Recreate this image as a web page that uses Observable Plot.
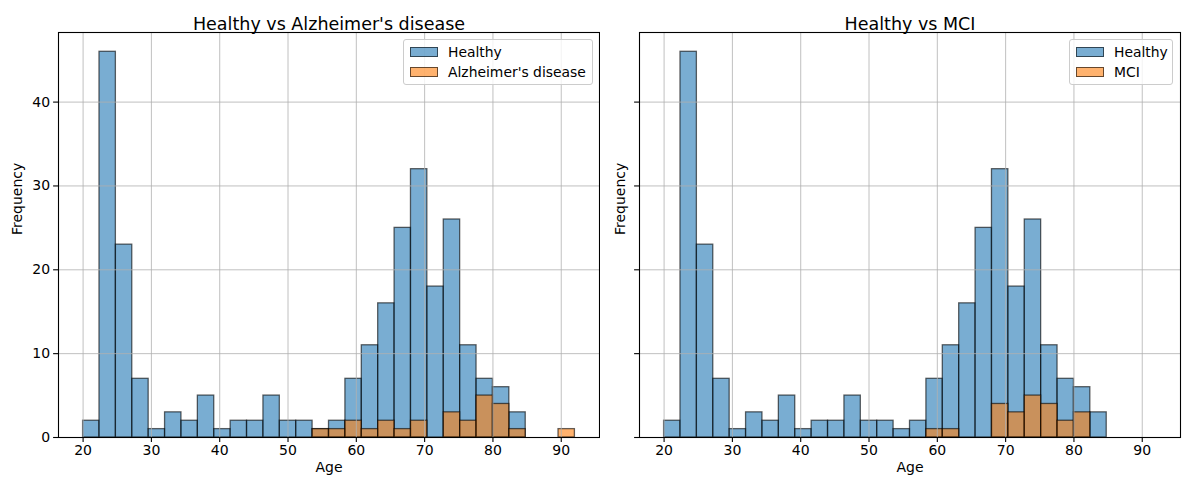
<!DOCTYPE html>
<html>
<head>
<meta charset="utf-8">
<script src="https://cdn.jsdelivr.net/npm/d3@7"></script>
<script src="https://cdn.jsdelivr.net/npm/@observablehq/plot@0.6"></script>
<style>
  body { margin: 0; background: #fff; font-family: "DejaVu Sans", sans-serif; }
  #wrap { position: relative; width: 1189px; height: 490px; overflow: hidden; }
  .panel { position: absolute; top: 0; }
  .legend { position: absolute; background: rgba(255,255,255,0.8); border: 1px solid #cccccc; border-radius: 3px;
            font-family: "DejaVu Sans", sans-serif; font-size: 13.9px; color: #000; padding: 2px 6px 2px 6px;
            box-sizing: border-box; white-space: nowrap; }
  .legend .row { display: flex; align-items: center; height: 20px; }
  .legend .sw { flex: none; width: 28px; height: 10px; margin-right: 10px; box-sizing: border-box; border: 1.3px solid rgba(0,0,0,0.6); }
</style>
</head>
<body>
<div id="wrap"></div>
<script>
// Bin edges (shared by both panels)
const binEdges = [20, 22.4, 24.8, 27.2, 29.6, 32, 34.4, 36.8, 39.2, 41.6, 44, 46.4, 48.8, 51.2, 53.6, 56,
                  58.4, 60.8, 63.2, 65.6, 68, 70.4, 72.8, 75.2, 77.6, 80, 82.4, 84.8, 87.2, 89.6, 92];
// Counts per bin
const healthyCounts = [2, 46, 23, 7, 1, 3, 2, 5, 1, 2, 2, 5, 2, 2, 1, 2, 7, 11, 16, 25, 32, 18, 26, 11, 7, 6, 3, 0, 0, 0];
const adCounts      = [0, 0, 0, 0, 0, 0, 0, 0, 0, 0, 0, 0, 0, 0, 1, 1, 2, 1, 2, 1, 2, 0, 3, 2, 5, 4, 1, 0, 0, 1];
const mciCounts     = [0, 0, 0, 0, 0, 0, 0, 0, 0, 0, 0, 0, 0, 0, 0, 0, 1, 1, 0, 0, 4, 3, 5, 4, 2, 3, 0, 0, 0, 0];

const xTicks = [20, 30, 40, 50, 60, 70, 80, 90];
const yTicks = [0, 10, 20, 30, 40];
const titles = ["Healthy vs Alzheimer's disease", "Healthy vs MCI"];
const groupNames = ["Alzheimer's disease", "MCI"];

const blue = "#1f77b4", orange = "#ff7f0e";

function toBins(counts) {
  return counts.map((c, i) => ({x1: binEdges[i], x2: binEdges[i + 1], y: c})).filter(d => d.y > 0);
}

function makePanel(idx, other, opts) {
  const font = "DejaVu Sans";
  return Plot.plot({
    width: opts.width,
    height: 490,
    marginLeft: opts.ml,
    marginRight: opts.mr,
    marginTop: 32,
    marginBottom: 53,
    style: {fontFamily: font, fontSize: "14px", color: "#000", background: "transparent"},
    x: {domain: [16.4, 95.6]},
    y: {domain: [0, 48.3]},
    marks: [
      Plot.rectY(toBins(healthyCounts), {x1: "x1", x2: "x2", y: "y", fill: blue, fillOpacity: 0.6,
        stroke: "black", strokeOpacity: 0.6, strokeWidth: 1.3, inset: 0}),
      Plot.rectY(toBins(other), {x1: "x1", x2: "x2", y: "y", fill: orange, fillOpacity: 0.6,
        stroke: "black", strokeOpacity: 0.6, strokeWidth: 1.3, inset: 0}),
      Plot.gridX(xTicks, {stroke: "#b0b0b0", strokeOpacity: 1, strokeWidth: 0.8}),
      Plot.gridY(yTicks, {stroke: "#b0b0b0", strokeOpacity: 1, strokeWidth: 0.8}),
      Plot.axisX({ticks: xTicks, tickSize: 4.9, tickPadding: 3, label: null, tickFormat: d => String(d), strokeWidth: 1.1}),
      Plot.axisY({ticks: yTicks, tickSize: 4.9, tickPadding: 3.5, label: null,
        tickFormat: idx === 0 ? (d => String(d)) : (() => ""), strokeWidth: 1.1}),
      Plot.frame({stroke: "black", strokeWidth: 1.1}),
      Plot.text([titles[idx]], {frameAnchor: "top", dy: -15, text: d => d, fontSize: 17.5, fill: "black"}),
      Plot.text(["Age"], {frameAnchor: "bottom", dy: 34, text: d => d, fontSize: 14, fill: "black"}),
      Plot.text(["Frequency"], {frameAnchor: "left", dx: opts.ylabDx, rotate: -90, text: d => d, fontSize: 14, fill: "black"})
    ]
  });
}

const wrap = document.getElementById("wrap");
const panels = [
  {left: 0, width: 600, ml: 58, mr: 1, ylabDx: -41, other: adCounts, legend: {left: 403, width: 190}},
  {left: 600, width: 589, ml: 39, mr: 9, ylabDx: -19, other: mciCounts, legend: {left: 1069, width: 104}}
];
panels.forEach((p, i) => {
  const div = document.createElement("div");
  div.className = "panel";
  div.style.left = p.left + "px";
  div.appendChild(makePanel(i, p.other, p));
  wrap.appendChild(div);

  const lg = document.createElement("div");
  lg.className = "legend";
  lg.style.left = p.legend.left + "px";
  lg.style.top = "39px";
  lg.style.width = p.legend.width + "px";
  lg.style.height = "46px";
  [["Healthy", blue], [groupNames[i], orange]].forEach(([name, col]) => {
    const row = document.createElement("div");
    row.className = "row";
    const sw = document.createElement("div");
    sw.className = "sw";
    sw.style.background = col === blue ? "rgba(31,119,180,0.6)" : "rgba(255,127,14,0.6)";
    const t = document.createElement("span");
    t.textContent = name;
    row.appendChild(sw);
    row.appendChild(t);
    lg.appendChild(row);
  });
  wrap.appendChild(lg);
});
</script>
</body>
</html>
